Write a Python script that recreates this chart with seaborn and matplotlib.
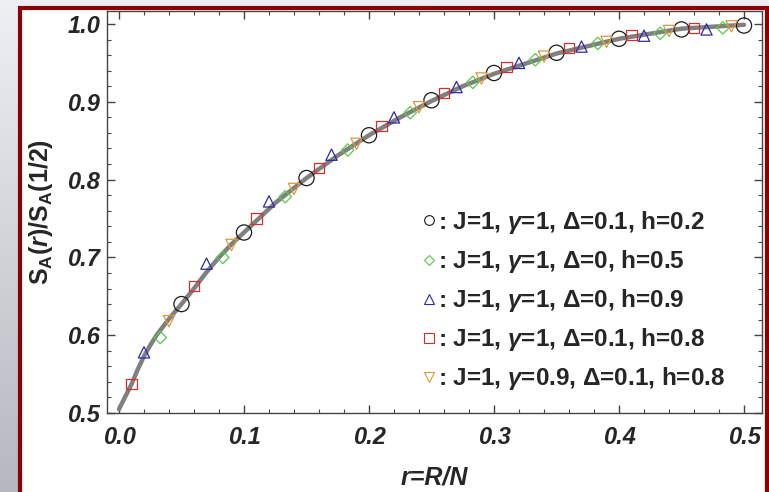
"""
Ratio S_A(r)/S_A(1/2) versus r = R/N for several XY-chain parameter sets,
drawn on top of the common scaling curve (grey line).
"""
import numpy as np
import matplotlib
matplotlib.use("Agg")
import matplotlib.pyplot as plt
from matplotlib.lines import Line2D
from matplotlib.patches import Rectangle
import seaborn as sns

# --- Data ---
curve_r = [0.0, 0.0025, 0.005, 0.0075, 0.01, 0.015, 0.02, 0.025, 0.03, 0.04,
           0.05, 0.06, 0.07, 0.08, 0.09, 0.10, 0.125, 0.15, 0.175, 0.20,
           0.225, 0.25, 0.275, 0.30, 0.35, 0.40, 0.45, 0.50]
curve_y = [0.505, 0.513, 0.521, 0.529, 0.537, 0.556, 0.573, 0.587, 0.600, 0.621,
           0.640, 0.660, 0.681, 0.700, 0.717, 0.732, 0.770, 0.802, 0.831, 0.857,
           0.880, 0.901, 0.920, 0.936, 0.962, 0.981, 0.994, 0.999]

circle_r = [0.05, 0.10, 0.15, 0.20, 0.25, 0.30, 0.35, 0.40, 0.45, 0.50]
circle_y = [0.640, 0.732, 0.802, 0.857, 0.902, 0.937, 0.963, 0.981, 0.993, 0.998]

diamond_r = [0.033, 0.083, 0.133, 0.183, 0.233, 0.283, 0.333, 0.383, 0.433, 0.483]
diamond_y = [0.597, 0.700, 0.778, 0.838, 0.886, 0.925, 0.954, 0.975, 0.988, 0.995]

tri_up_r = [0.02, 0.07, 0.12, 0.17, 0.22, 0.27, 0.32, 0.37, 0.42, 0.47]
tri_up_y = [0.578, 0.692, 0.772, 0.832, 0.880, 0.919, 0.950, 0.971, 0.985, 0.993]

square_r = [0.01, 0.06, 0.11, 0.16, 0.21, 0.26, 0.31, 0.36, 0.41, 0.46]
square_y = [0.537, 0.663, 0.750, 0.815, 0.869, 0.911, 0.945, 0.969, 0.986, 0.995]

tri_dn_r = [0.04, 0.09, 0.14, 0.19, 0.24, 0.29, 0.34, 0.39, 0.44, 0.49]
tri_dn_y = [0.618, 0.716, 0.788, 0.846, 0.893, 0.930, 0.958, 0.977, 0.991, 0.997]

labels = [
    r": J=1, $\gamma$=1, Δ=0.1, h=0.2",
    r": J=1, $\gamma$=1, Δ=0, h=0.5",
    r": J=1, $\gamma$=1, Δ=0, h=0.9",
    r": J=1, $\gamma$=1, Δ=0.1, h=0.8",
    r": J=1, $\gamma$=0.9, Δ=0.1, h=0.8",
]

# --- Styling for each series (marker, colour, marker area) ---
series = [
    (circle_r, circle_y, "o", "#1a1a1a", 120),
    (diamond_r, diamond_y, "D", "#5cc84a", 40),
    (tri_up_r, tri_up_y, "^", "#2b2ba6", 66),
    (square_r, square_y, "s", "#d22f2f", 52),
    (tri_dn_r, tri_dn_y, "v", "#e0963c", 66),
]

sns.set_theme(style="ticks")
plt.rcParams["font.family"] = ["Liberation Sans", "DejaVu Sans"]
plt.rcParams["mathtext.fontset"] = "custom"
plt.rcParams["mathtext.rm"] = "Liberation Sans:bold"
plt.rcParams["mathtext.it"] = "Liberation Sans:italic:bold"
plt.rcParams["mathtext.bf"] = "Liberation Sans:bold"

fig = plt.figure(figsize=(7.69, 4.92), dpi=100)

# --- Slide-like background: grey gradient plus white panel with dark red frame ---
bg = fig.add_axes([0, 0, 1, 1], zorder=-5)
top_c = np.array([0xef, 0xf0, 0xf4]) / 255
bot_c = np.array([0xb6, 0xb8, 0xc0]) / 255
t = np.linspace(0, 1, 256)[:, None]
grad = (top_c[None, :] * (1 - t) + bot_c[None, :] * t)[:, None, :]
bg.imshow(grad, extent=[0, 1, 0, 1], aspect="auto", origin="upper")
bg.add_patch(Rectangle((20 / 769, -0.1), (767 - 20) / 769, 1.1 - 8 / 492,
                       facecolor="white", edgecolor="#8b0000", lw=3, clip_on=False))
bg.set_xlim(0, 1)
bg.set_ylim(0, 1)
bg.axis("off")

ax = fig.add_axes([107 / 769, 1 - 413 / 492, (762 - 107) / 769, (413 - 11) / 492])
ax.set_facecolor("white")

# Scaling curve
sns.lineplot(x=curve_r, y=curve_y, color="#808080", lw=3.2, ax=ax, zorder=1,
             sort=False, estimator=None)

# Numerical data, open markers
handles = []
for (xs, ys, mk, col, size), lab in zip(series, labels):
    sns.scatterplot(x=xs, y=ys, marker=mk, s=size, ax=ax, zorder=3,
                    facecolors="none", edgecolors=col, linewidths=0.9)
    handles.append(Line2D([], [], ls="", marker=mk, mfc="none", mec=col,
                          mew=0.8, ms=7 if mk != "D" else 5.2))

ax.set_xlim(-0.0096, 0.5144)
ax.set_ylim(0.5, 1.0167)
ax.set_xticks([0.0, 0.1, 0.2, 0.3, 0.4, 0.5])
ax.set_yticks([0.5, 0.6, 0.7, 0.8, 0.9, 1.0])
ax.set_xticks(np.arange(0.0, 0.52, 0.02), minor=True)
ax.set_yticks(np.arange(0.5, 1.02, 0.02), minor=True)
ax.set_xticklabels(["0.0", "0.1", "0.2", "0.3", "0.4", "0.5"])
ax.set_yticklabels(["0.5", "0.6", "0.7", "0.8", "0.9", "1.0"])

ax.tick_params(which="both", direction="in", top=True, right=True, color="#444444")
ax.tick_params(which="major", length=6, width=1, pad=5)
ax.tick_params(axis="x", which="major", pad=9)
ax.tick_params(which="minor", length=3, width=0.8)
for lab in ax.get_xticklabels() + ax.get_yticklabels():
    lab.set_fontsize(17)
    lab.set_fontweight("bold")
    lab.set_fontstyle("italic")
for sp in ax.spines.values():
    sp.set_color("#444444")
    sp.set_linewidth(1)

ax.set_xlabel("r=R/N", fontsize=18, fontweight="bold", fontstyle="italic", labelpad=12)
ax.set_ylabel(r"$\mathrm{S}_{\mathrm{A}}(r)/\mathrm{S}_{\mathrm{A}}(\mathit{1/2})$",
              fontsize=18, labelpad=9)

ax.legend(handles, labels, loc="upper left", bbox_to_anchor=(0.466, 0.532),
          frameon=False, handlelength=0.6, handletextpad=0.05, labelspacing=0.5,
          borderaxespad=0, prop={"weight": "bold", "size": 17.5})

fig.savefig("out.png", dpi=100)
